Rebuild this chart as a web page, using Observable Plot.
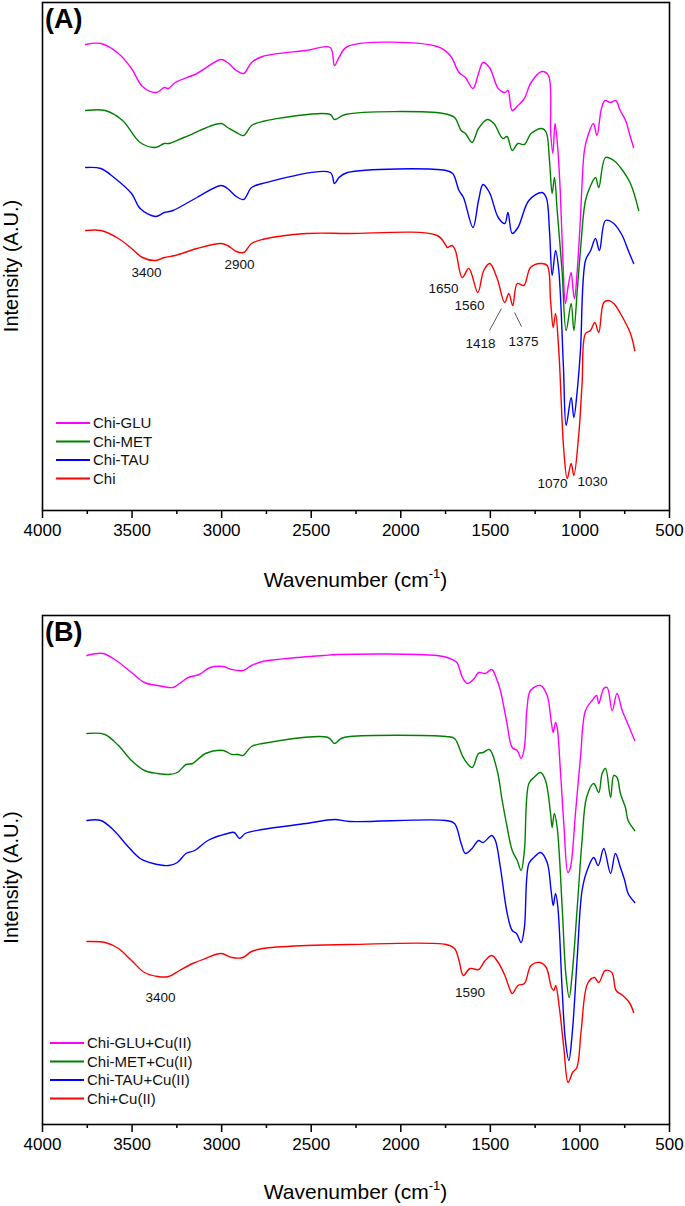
<!DOCTYPE html>
<html><head><meta charset="utf-8">
<script src="https://cdn.jsdelivr.net/npm/d3@7"></script>
<script src="https://cdn.jsdelivr.net/npm/@observablehq/plot@0.6"></script>
<style>body{margin:0;background:#fff;} #chart svg{display:block;}</style>
</head><body><div id="chart"></div>
<script>
// ---- data (wavenumber cm-1, intensity A.U.) ----
const majorTicks = [4000, 3500, 3000, 2500, 2000, 1500, 1000, 500];
const minorTicks = [3750, 3250, 2750, 2250, 1750, 1250, 750];
const namesA = ["Chi-GLU", "Chi-MET", "Chi-TAU", "Chi"];
const namesB = ["Chi-GLU+Cu(II)", "Chi-MET+Cu(II)", "Chi-TAU+Cu(II)", "Chi+Cu(II)"];
const colors = ["#ff00ff", "#008000", "#0000ff", "#ff0000"];

const gluA = [[3759,466],[3674,467],[3576,457],[3503,442],[3442,424],[3364,418],[3320,423],[3296,422],[3259,428],[3138,437],[3004,451],[2967,448],[2918,440],[2877,437],[2833,448],[2772,454],[2528,460],[2394,463],[2370,445],[2345,453],[2297,464],[1797,464],[1724,455],[1675,438],[1639,433],[1597,422],[1566,437],[1541,448],[1505,443],[1456,422],[1419,418],[1402,420],[1378,400],[1346,405],[1310,412],[1273,428],[1212,439],[1176,435],[1163,377],[1151,357],[1139,387],[1125,365],[1110,320],[1095,250],[1081,207],[1065,225],[1049,238],[1038,220],[1030,212],[1015,240],[997,293],[990,320],[975,360],[955,375],[925,387],[905,375],[880,402],[860,410],[830,408],[800,410],[775,400],[745,390],[724,377],[700,363]];
const metA = [[3759,400],[3650,400],[3553,390],[3455,368],[3369,363],[3320,367],[3296,367],[3211,373],[3004,387],[2967,383],[2918,378],[2877,375],[2833,385],[2772,389],[2394,396],[2370,391],[2310,396],[1762,397],[1700,393],[1663,380],[1639,377],[1602,368],[1566,382],[1517,391],[1480,387],[1431,372],[1407,374],[1378,360],[1346,367],[1310,366],[1273,377],[1212,382],[1188,378],[1170,350],[1155,317],[1142,333],[1127,300],[1100,240],[1077,180],[1049,207],[1034,180],[1015,220],[997,260],[969,310],[940,325],[913,333],[895,323],[857,353],[811,350],[774,343],[718,327],[672,300]];
const tauA = [[3759,343],[3674,342],[3601,333],[3503,317],[3455,302],[3369,294],[3320,298],[3272,300],[3138,313],[3004,325],[2967,322],[2918,314],[2877,311],[2833,323],[2772,327],[2394,338],[2370,327],[2345,333],[2297,338],[1748,340],[1710,337],[1675,320],[1650,313],[1597,283],[1566,310],[1541,326],[1505,318],[1456,293],[1419,287],[1402,298],[1378,277],[1346,283],[1285,310],[1212,318],[1188,313],[1170,280],[1155,235],[1136,260],[1118,240],[1092,143],[1077,85],[1049,113],[1034,93],[1015,120],[997,160],[969,250],[940,260],[913,272],[891,260],[857,290],[811,287],[764,275],[730,260],[700,247]];
const chiA = [[3759,280],[3674,280],[3576,272],[3503,262],[3442,253],[3369,250],[3320,253],[3259,255],[3138,262],[3004,267],[2967,265],[2918,259],[2877,258],[2833,267],[2772,271],[2528,277],[2300,277],[1797,275],[1748,265],[1741,263],[1713,265],[1695,260],[1657,233],[1620,242],[1570,218],[1537,240],[1503,247],[1462,232],[1420,208],[1397,217],[1375,205],[1350,227],[1313,225],[1276,243],[1220,247],[1183,245],[1164,210],[1149,183],[1136,197],[1118,160],[1090,60],[1071,32],[1049,47],[1034,35],[1006,77],[988,127],[969,177],[941,180],[917,188],[895,178],[867,208],[840,210],[811,207],[774,197],[718,177],[694,160]];

const gluB = [[3752,469],[3662,471],[3589,464],[3503,452],[3431,442],[3358,439],[3272,437],[3235,441],[3186,447],[3125,450],[3064,457],[2991,458],[2943,455],[2881,454],[2833,459],[2772,463],[2577,467],[2431,469],[2358,470],[1797,469],[1724,466],[1687,462],[1656,447],[1628,441],[1590,446],[1566,452],[1529,451],[1492,455],[1468,447],[1444,434],[1410,404],[1378,377],[1350,374],[1328,366],[1310,377],[1295,417],[1276,434],[1220,439],[1183,429],[1161,404],[1149,392],[1136,402],[1127,397],[1109,354],[1090,301],[1067,252],[1053,257],[1025,311],[997,367],[969,414],[932,424],[907,429],[895,421],[867,436],[848,437],[820,414],[793,431],[764,414],[736,402],[694,384]];
const metB = [[3752,391],[3652,390],[3576,379],[3503,364],[3431,354],[3358,351],[3296,350],[3247,352],[3199,360],[3162,361],[3090,371],[2991,374],[2943,370],[2906,370],[2881,369],[2833,378],[2772,381],[2406,387],[2370,381],[2333,386],[2284,388],[1748,388],[1700,386],[1651,367],[1602,357],[1566,371],[1541,372],[1505,375],[1462,354],[1434,324],[1406,297],[1378,274],[1350,264],[1328,254],[1310,274],[1285,341],[1257,347],[1220,352],[1192,344],[1164,311],[1155,297],[1143,311],[1127,297],[1099,217],[1079,151],[1060,127],[1043,151],[1015,217],[988,284],[963,327],[923,341],[895,332],[876,351],[857,356],[829,327],[811,349],[793,347],[774,331],[746,317],[731,304],[694,294]];
const tauB = [[3752,304],[3674,304],[3601,294],[3528,279],[3455,266],[3382,261],[3296,259],[3247,262],[3199,271],[3150,274],[3077,284],[2967,291],[2930,292],[2900,286],[2869,291],[2772,295],[2528,301],[2370,305],[2284,303],[1748,304],[1700,301],[1663,281],[1639,271],[1602,276],[1566,284],[1541,282],[1492,289],[1472,284],[1444,257],[1406,211],[1378,194],[1354,191],[1328,182],[1310,197],[1285,261],[1257,267],[1220,272],[1183,262],[1161,234],[1149,219],[1136,231],[1123,217],[1099,134],[1081,84],[1062,64],[1043,91],[1015,167],[988,234],[960,254],[923,267],[898,259],[867,276],[829,251],[802,271],[774,257],[750,244],[731,231],[694,222]];
const chiB = [[3752,183],[3650,182],[3576,176],[3503,164],[3431,152],[3358,148],[3296,148],[3235,154],[3162,161],[3090,166],[3004,171],[2943,167],[2881,167],[2833,173],[2772,176],[2528,179],[2284,180],[1748,180],[1700,176],[1675,164],[1651,149],[1614,156],[1566,155],[1529,164],[1492,169],[1456,162],[1419,149],[1395,137],[1378,131],[1346,139],[1310,141],[1273,159],[1224,162],[1188,157],[1159,137],[1145,134],[1135,139],[1115,117],[1090,77],[1066,42],[1041,52],[1017,57],[993,94],[957,141],[919,147],[895,142],[859,154],[822,152],[798,134],[761,129],[724,122],[700,112]];

// peak labels: [text, wavenumber, intensity]
const notesA = [["3400",3419,238],["2900",2900,246],["1650",1762,222],["1560",1617,205],["1418",1555,167],["1375",1315,169],["1070",1153,27],["1030",930,29]];
const leadersA = [[1438,202,1505,180],[1365,198,1326,184]];
const notesB = [["3400",3341,127],["1590",1614,132]];

function panel({letter, names, curves, notes, leaders, marginTop, marginBottom, yMax, legendX, legendY, titleY, ylabelDy}) {
  const rows = curves.flatMap((c, i) => c.map(([wn, v]) => ({series: names[i], wn, v})));
  const noteRows = notes.map(([label, wn, v]) => ({label, wn, v}));
  const leaderRows = leaders.map(([x1, y1, x2, y2]) => ({x1, y1, x2, y2}));
  const W = 685, H = 603, mL = 42, mR = 16;
  const svg = Plot.plot({
    width: W, height: H, marginLeft: mL, marginRight: mR, marginTop, marginBottom,
    x: {domain: [4000, 500], label: null},
    y: {domain: [0, yMax], axis: null},
    color: {domain: names, range: colors},
    style: {fontFamily: "'Liberation Sans', Arial, sans-serif", fontSize: "17px", color: "black", background: "white", overflow: "visible"},
    marks: [
      Plot.line(rows, {x: "wn", y: "v", z: "series", stroke: "series", strokeWidth: 1.4, curve: "catmull-rom"}),
      Plot.link(leaderRows, {x1: "x1", y1: "y1", x2: "x2", y2: "y2", stroke: "#444", strokeWidth: 0.9}),
      Plot.text(noteRows, {x: "wn", y: "v", text: "label", fontSize: 13.5, fill: "#111"}),
      Plot.frame({stroke: "black", strokeWidth: 1.6}),
      Plot.axisX({ticks: majorTicks, tickSize: 8, tickPadding: 5, fontSize: 17, strokeWidth: 1.5, tickFormat: d => String(d)}),
      Plot.axisX({ticks: minorTicks, tickSize: 4, strokeWidth: 1.5, tickFormat: () => ""})
    ]
  });
  const s = d3.select(svg);
  const frameBottom = H - marginBottom;
  s.append("text").attr("x", 45).attr("y", marginTop + 26).attr("text-anchor", "start")
    .attr("font-weight", "bold").attr("font-size", 27).attr("fill", "black").text(letter);
  s.append("text").attr("transform", `translate(18,${(marginTop + frameBottom) / 2 + ylabelDy}) rotate(-90)`)
    .attr("text-anchor", "middle").attr("font-size", 20).attr("fill", "black").text("Intensity (A.U.)");
  const t = s.append("text").attr("x", (mL + W - mR) / 2).attr("y", titleY)
    .attr("text-anchor", "middle").attr("font-size", 21).attr("fill", "black");
  t.append("tspan").text("Wavenumber (cm");
  t.append("tspan").attr("font-size", 13).attr("dy", -9).text("-1");
  t.append("tspan").attr("dy", 9).text(")");
  names.forEach((n, i) => {
    const y = legendY + i * 18.5;
    s.append("line").attr("x1", legendX).attr("x2", legendX + 34).attr("y1", y).attr("y2", y)
      .attr("stroke", colors[i]).attr("stroke-width", 2);
    s.append("text").attr("x", legendX + 37).attr("y", y).attr("dy", "0.35em").attr("text-anchor", "start")
      .attr("font-size", 15).attr("fill", "#111").text(n);
  });
  return svg;
}

const root = document.getElementById("chart");
root.append(panel({letter: "(A)", names: namesA, curves: [gluA, metA, tauA, chiA], notes: notesA, leaders: leadersA,
  marginTop: 2, marginBottom: 93, yMax: 508, legendX: 56, legendY: 423, titleY: 587, ylabelDy: 10}));
root.append(panel({letter: "(B)", names: namesB, curves: [gluB, metB, tauB, chiB], notes: notesB, leaders: [],
  marginTop: 12, marginBottom: 82, yMax: 509, legendX: 50, legendY: 440, titleY: 596, ylabelDy: 8}));
</script></body></html>
